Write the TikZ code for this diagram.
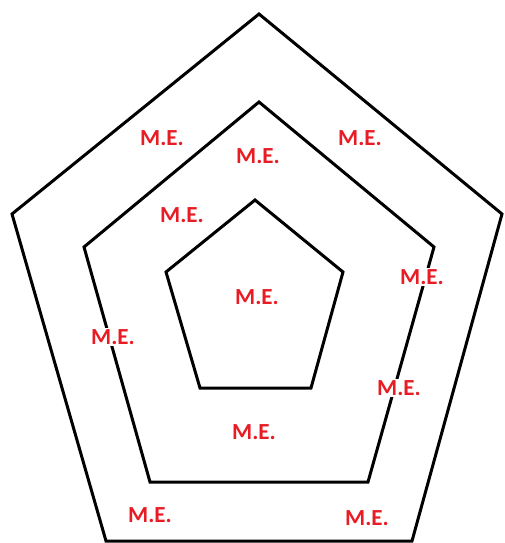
\documentclass[tikz,border=0pt]{standalone}
\usepackage{fontspec}
\setmainfont{Carlito}
\definecolor{mered}{RGB}{232,28,36}
\begin{document}
\begin{tikzpicture}[x=1pt,y=-1pt,
  edge/.style={line width=3pt,line join=miter,black},
  me/.style={fill=white,inner sep=1pt,text=mered,font=\fontsize{23}{25}\selectfont\bfseries}]
\useasboundingbox (0,0) rectangle (504,543);
% outer pentagon
\coordinate (o1) at (259,14);
\coordinate (o2) at (502,214);
\coordinate (o3) at (412,541);
\coordinate (o4) at (106,541);
\coordinate (o5) at (12,214);
\draw[edge] (o1) -- (o2) -- (o3) -- (o4) -- (o5) -- cycle;
% middle pentagon
\coordinate (m1) at (259,102);
\coordinate (m2) at (434,247);
\coordinate (m3) at (368,482);
\coordinate (m4) at (150,482);
\coordinate (m5) at (84,247);
\draw[edge] (m1) -- (m2) -- (m3) -- (m4) -- (m5) -- cycle;
% inner pentagon
\coordinate (i1) at (255,200);
\coordinate (i2) at (343,272);
\coordinate (i3) at (311,388);
\coordinate (i4) at (200,388);
\coordinate (i5) at (166,272);
\draw[edge] (i1) -- (i2) -- (i3) -- (i4) -- (i5) -- cycle;
% labels
\node[me] (l1) at (162,138) {M.E.};
\node[me] (l2) at (360,138) {M.E.};
\node[me] (l3) at (258,156) {M.E.};
\node[me] (l4) at (182,215) {M.E.};
\node[me] (l5) at (422,277) {M.E.};
\node[me] (l6) at (257,297) {M.E.};
\node[me] (l7) at (113,337) {M.E.};
\node[me] (l8) at (399,388) {M.E.};
\node[me] (l9) at (254,432) {M.E.};
\node[me] (l10) at (150,515) {M.E.};
\node[me] (l11) at (367,518) {M.E.};
\end{tikzpicture}
\end{document}
